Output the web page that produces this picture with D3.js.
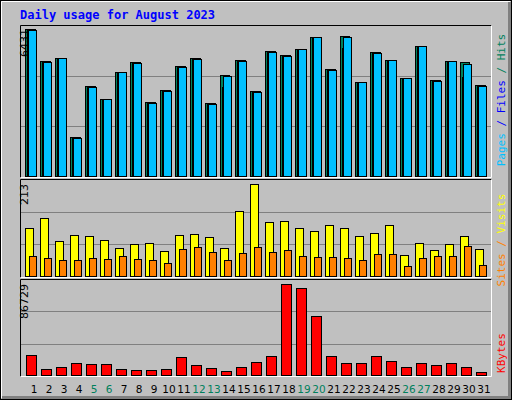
<!DOCTYPE html><html><head><meta charset="utf-8">
<script src="https://cdn.jsdelivr.net/npm/d3@7"></script>
<style>body{margin:0;background:#fff}svg{display:block}</style></head><body>
<script>
const days=d3.range(1,32);
const weekend=[5,6,12,13,19,20,26,27];
const hits=[6431,5034,5165,1717,3943,3376,4569,5005,3245,3783,4816,5165,3201,4423,5078,3725,5471,5296,5558,6082,4685,6126,4118,5427,5078,4292,5689,4205,5034,4991,3987];
const files=[6431,5034,5165,1717,3943,3376,4569,5005,3245,3783,4816,5165,3201,3899,5078,3725,5471,5296,5558,6082,4685,5602,4118,5427,5078,4292,5689,4205,5034,4336,3987];
const pages=[6387,4990,5165,1673,3899,3376,4569,4961,3201,3739,4772,5121,3157,4380,5034,3681,5427,5252,5558,6082,4641,6082,4118,5383,5078,4292,5689,4161,5034,4903,3943];
const visits=[112,135,82,95,93,84,65,75,77,58,95,98,91,65,151,213,125,128,112,105,118,112,93,100,118,49,77,61,75,93,63];
const sites=[47,42,38,38,42,40,47,40,38,31,63,68,56,38,54,68,56,61,47,45,45,42,38,52,52,22,42,47,47,70,26];
const kbytes=[19307,6014,7913,11711,10761,10761,6014,5064,5064,6014,17408,9812,6963,4115,7913,12660,18357,86729,82923,56337,18357,11711,11711,18357,13610,7913,11711,9812,11711,7913,3165];
const maxLabels=["6431","213","86729"];

const svg=d3.select("body").append("svg").attr("width",512).attr("height",400);
svg.append("rect").attr("x",0.5).attr("y",0.5).attr("width",511).attr("height",399).attr("fill","#c0c0c0").attr("stroke","#000");
svg.append("path").attr("d","M509.5,2 V397.5 H2").attr("stroke","#808080").attr("stroke-width",3).attr("fill","none");
svg.append("path").attr("d","M1.5,398 V1.5 H510").attr("stroke","#fff").attr("fill","none");
svg.append("text").attr("x",20).attr("y",19).text("Daily usage for August 2023")
 .attr("font-family","DejaVu Sans Mono").attr("font-weight","bold").attr("font-size",12).attr("fill","#0000ff");

const x=d3.scaleBand().domain(days).range([25,490]).paddingInner(0).paddingOuter(0);
x.range([25,25+15*31]);
function panel(y0,y1){
  svg.append("rect").attr("x",20.5).attr("y",y0+0.5).attr("width",471).attr("height",y1-y0).attr("fill","#c0c0c0").attr("stroke","none");
  svg.append("path").attr("d",`M20.5,${y1+0.5} V${y0+0.5} H491.5`).attr("stroke","#000").attr("fill","none");
  svg.append("path").attr("d",`M491.5,${y0+0.5} V${y1+0.5} H20.5`).attr("stroke","#fff").attr("fill","none");
  const t=y0+3.5;
  [1,2].forEach(i=>{const gy=Math.round(y0+(y1-y0)*i/3)+0.5;
    svg.append("line").attr("x1",21).attr("x2",491).attr("y1",gy).attr("y2",gy).attr("stroke","#808080");});
}
function bars(data,scale,off,w,fill){
  svg.append("g").selectAll("rect").data(data).join("rect")
   .attr("x",(d,i)=>x(days[i])+off+0.5).attr("width",w)
   .attr("y",d=>Math.round(scale(d))+0.5).attr("height",d=>scale(0)-Math.round(scale(d)))
   .attr("fill",fill).attr("stroke","#000");
}
function sideLabel(x0,ymid,parts){
  const t=svg.append("text").attr("transform",`translate(${x0},${ymid}) rotate(-90)`).attr("text-anchor","middle")
   .attr("font-family","DejaVu Sans Mono").attr("font-size",11);
  parts.forEach(p=>t.append("tspan").attr("fill",p[1]).text(p[0]));
}
// top
panel(25,177);
const y1=d3.scaleLinear().domain([0,6431]).range([176,29]);
bars(hits,y1,0,9,"#00805c");bars(files,y1,2,8,"#0000ff");bars(pages,y1,3,8,"#00c0ff");
// middle
panel(179,277);
const y2=d3.scaleLinear().domain([0,213]).range([276,184]);
bars(visits,y2,0,8,"#ffff00");bars(sites,y2,4,7,"#ff8000");
// bottom
panel(279,376);
const y3=d3.scaleLinear().domain([0,86729]).range([375,284]);
bars(kbytes,y3,1,10,"#ff0000");

[[28,y1(6431)],[28,y2(213)],[28,y3(86729)]].forEach((p,i)=>{
  svg.append("text").attr("transform",`translate(${p[0]},${p[1]}) rotate(-90)`).attr("text-anchor","end")
   .attr("font-family","DejaVu Sans").attr("font-size",11).attr("fill","#000").text(maxLabels[i]);
});
sideLabel(505,100,[["Pages","#00c0ff"],[" / ","#0000ff"],["Files","#0000ff"],[" / ","#00805c"],["Hits","#00805c"]]);
sideLabel(505,240,[["Sites","#ff8000"],[" / ","#ff8000"],["Visits","#ffff00"]]);
sideLabel(505,353,[["KBytes","#ff0000"]]);

svg.append("g").selectAll("text").data(days).join("text")
 .attr("x",d=>x(d)+x.bandwidth()/2+1.5).attr("y",393).attr("text-anchor","middle")
 .attr("font-family","DejaVu Sans").attr("font-size",10.5)
 .attr("fill",d=>weekend.includes(d)?"#00805c":"#000").text(d=>d);
</script></body></html>
